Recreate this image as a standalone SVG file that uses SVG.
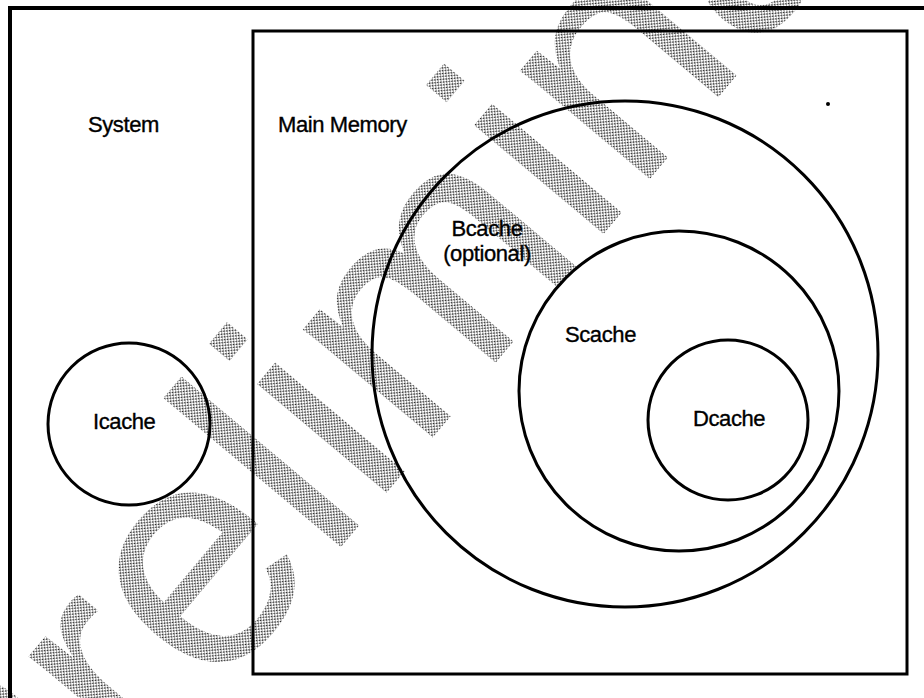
<svg xmlns="http://www.w3.org/2000/svg" width="924" height="698" viewBox="0 0 924 698">
  <defs>
    <pattern id="halftone" width="4" height="4" patternUnits="userSpaceOnUse">
      <rect x="0" y="0" width="1.6" height="1.6" fill="#222"/>
      <rect x="2" y="2" width="1.6" height="1.6" fill="#222"/>
    </pattern>
    <style>
      .box { fill: none; stroke: #000; }
      .ring { fill: none; stroke: #000; stroke-width: 3; }
      .lbl { font-family: "Liberation Sans", Arial, Helvetica, sans-serif; font-size: 22px; fill: #000; stroke: #000; stroke-width: 0.35; letter-spacing: -0.4px; }
      .wm { font-family: "Liberation Sans", Arial, Helvetica, sans-serif; font-size: 320px; fill: url(#halftone); }
    </style>
  </defs>
  <rect x="0" y="0" width="924" height="698" fill="#fff"/>

  <g id="watermark">
    <text class="wm" x="7" y="945" transform="rotate(-50 7 945)">Preliminary</text>
  </g>

  <g id="system">
    <rect class="box" x="10" y="8" width="940" height="720" stroke-width="4"/>
    <text class="lbl" x="88" y="132">System</text>
  </g>

  <g id="main-memory">
    <rect class="box" x="253" y="31" width="654" height="643" stroke-width="3"/>
    <text class="lbl" x="278" y="132">Main Memory</text>
  </g>

  <g id="bcache">
    <circle class="ring" cx="625" cy="354" r="253"/>
    <text class="lbl" x="487" y="236" text-anchor="middle">Bcache</text>
    <text class="lbl" x="487" y="261" text-anchor="middle">(optional)</text>
  </g>

  <g id="scache">
    <circle class="ring" cx="679" cy="391" r="160"/>
    <text class="lbl" x="565" y="342">Scache</text>
  </g>

  <g id="dcache">
    <circle class="ring" cx="728" cy="420" r="80"/>
    <text class="lbl" x="693" y="426">Dcache</text>
  </g>

  <g id="icache">
    <circle class="ring" cx="129" cy="424" r="81"/>
    <text class="lbl" x="93" y="429">Icache</text>
  </g>

  <g id="marks">
    <circle cx="828" cy="104" r="2" fill="#000"/>
  </g>

  <g id="connectors"/>
</svg>
